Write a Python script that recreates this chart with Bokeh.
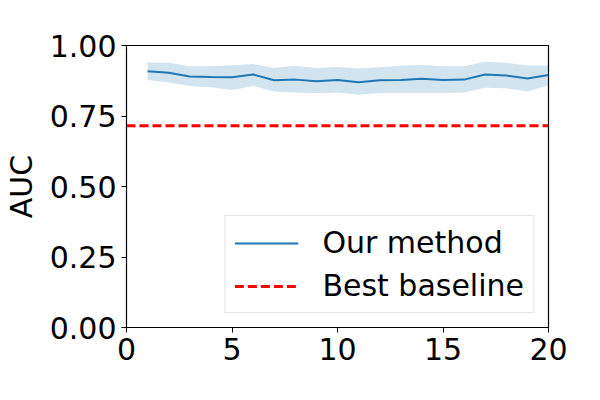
from bokeh.plotting import figure
from bokeh.models import Range1d, FixedTicker, NumeralTickFormatter, Legend, LegendItem
from bokeh.embed import file_html
from bokeh.resources import INLINE

epochs = list(range(1, 21))
auc_mean = [0.909, 0.903, 0.890, 0.888, 0.887, 0.897, 0.877, 0.879, 0.873, 0.878,
            0.870, 0.877, 0.878, 0.882, 0.878, 0.879, 0.897, 0.894, 0.883, 0.895]
auc_upper = [0.940, 0.939, 0.926, 0.926, 0.930, 0.934, 0.920, 0.928, 0.920, 0.924,
             0.918, 0.923, 0.928, 0.931, 0.926, 0.926, 0.942, 0.939, 0.929, 0.929]
auc_lower = [0.878, 0.869, 0.856, 0.852, 0.842, 0.856, 0.837, 0.833, 0.831, 0.833,
             0.825, 0.832, 0.832, 0.832, 0.832, 0.833, 0.850, 0.848, 0.837, 0.859]
baseline_auc = 0.715
x_min, x_max = 0, 20
x_ticks = [0, 5, 10, 15, 20]
y_ticks = [0.0, 0.25, 0.5, 0.75, 1.0]

FONT = "DejaVu Sans"
FS = "30px"

p = figure(width=584, height=384, output_backend="svg", toolbar_location=None,
           x_range=Range1d(x_min, x_max), y_range=Range1d(0, 1),
           min_border_left=126, min_border_top=45, min_border_right=36, min_border_bottom=57)

p.varea(x=epochs, y1=auc_lower, y2=auc_upper, fill_color="#1f77b4", fill_alpha=0.2)
r_line = p.line(epochs, auc_mean, line_color="#1f77b4", line_width=2)
r_base = p.line([x_min, x_max], [baseline_auc, baseline_auc], line_color="red",
                line_width=3, line_dash="9 4")

p.xgrid.visible = False
p.ygrid.visible = False
p.outline_line_color = "black"
p.outline_line_width = 1.2
p.outline_line_alpha = 1

for ax in (p.xaxis[0], p.yaxis[0]):
    ax.major_label_text_font = FONT
    ax.major_label_text_font_size = FS
    ax.major_label_text_color = "black"
    ax.major_tick_in = 0
    ax.major_tick_out = 5
    ax.minor_tick_in = 0
    ax.minor_tick_out = 0
    ax.axis_line_color = "black"
    ax.major_tick_line_color = "black"
    ax.major_label_standoff = 5

p.xaxis.ticker = FixedTicker(ticks=x_ticks)
p.yaxis.ticker = FixedTicker(ticks=y_ticks)
p.yaxis.formatter = NumeralTickFormatter(format="0.00")
p.yaxis.axis_label = "AUC"
p.yaxis.axis_label_text_font = FONT
p.yaxis.axis_label_text_font_size = FS
p.yaxis.axis_label_text_font_style = "normal"
p.yaxis.axis_label_text_color = "black"
p.yaxis.axis_label_standoff = 8

legend = Legend(items=[LegendItem(label="Our method", renderers=[r_line]),
                       LegendItem(label="Best baseline", renderers=[r_base])],
                location="bottom_right")
legend.label_text_font = FONT
legend.label_text_font_size = FS
legend.label_text_color = "black"
legend.glyph_width = 64
legend.glyph_height = 30
legend.label_standoff = 24
legend.label_height = 30
legend.spacing = 8
legend.padding = 9
legend.margin = 14
legend.border_line_color = "#cccccc"
legend.border_line_width = 1
legend.background_fill_alpha = 0.8
p.add_layout(legend)

open("out.html", "w").write(file_html(p, INLINE))
